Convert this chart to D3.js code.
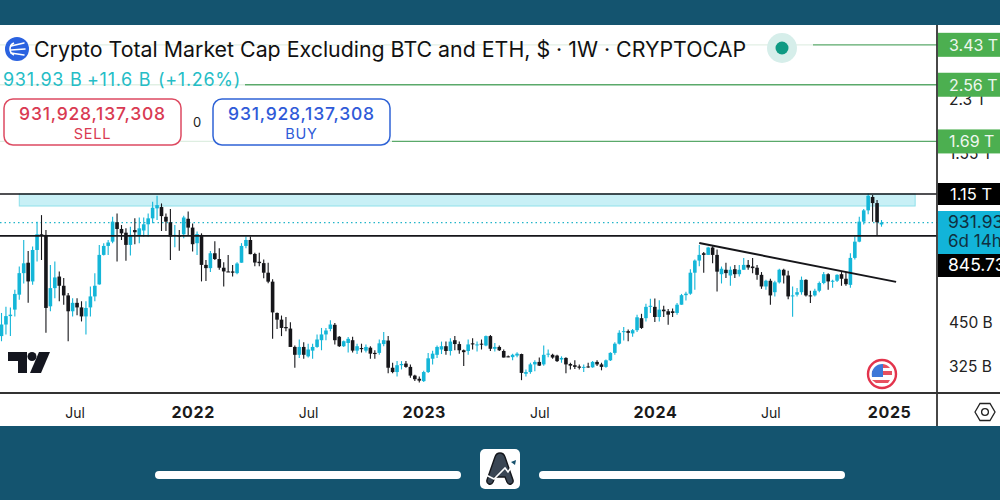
<![CDATA[<html>
<head>
<meta charset="utf-8">
<script src="https://d3js.org/d3.v7.min.js"></script>
<style>
  html, body { margin: 0; padding: 0; background: #fff; overflow: hidden; }
  svg { display: block; font-family: Inter, "Liberation Sans", sans-serif; }
</style>
</head>
<body>
<svg id="chart" width="1000" height="500"></svg>
<script>
// Weekly candles in billions of USD, one entry per week from 8 Mar 2021
const opens = [
  406,442,470,493,550,644,695,606,763,856, 852,505,577,628,587,547,487,518,501,469,
  501,543,593,736,786,811,935,890,866,792, 883,852,880,921,962,1035,1045,973,935,848,
  848,856,959,899,802,852,684,668,745,714, 670,652,652,644,695,786,821,741,700,693,
  646,605,481,458,434,429,375,354,375,350, 365,375,394,411,428,441,404,377,386,394,
  365,372,365,373,359,359,383,393,322,312, 328,332,324,304,297,292,312,344,354,368,
  377,364,394,383,366,364,385,381,384,379, 406,370,375,364,350,348,352,356,308,312,
  330,336,330,356,354,352,342,346,331,328, 325,322,325,323,336,330,324,340,359,384,
  418,421,414,424,463,463,503,503,467,493, 487,487,481,511,548,554,646,706,745,736,
  777,736,639,660,633,663,639,660,684,676, 670,636,584,609,560,602,660,633,543,550,
  560,613,547,547,566,599,639,606,609,639, 618,591,720,811,939,1020,1125,1076,920
];
const closes = [
  442,470,475,553,644,692,606,763,856,848, 499,577,624,587,547,487,518,501,469,499,
  543,587,736,786,806,939,890,862,792,852, 869,894,921,962,1040,1060,978,939,842,852,
  842,968,899,796,858,684,668,745,714,670, 652,647,646,691,786,821,740,696,693,646,
  605,483,458,431,430,375,354,375,354,368, 375,396,411,423,442,394,377,391,398,365,
  377,369,375,357,356,385,394,322,312,328, 331,324,304,296,293,312,345,357,375,377,
  364,390,383,366,361,382,382,382,382,406, 370,375,366,347,349,354,357,310,312,330,
  336,327,354,357,347,338,346,330,327,324, 322,324,323,336,330,324,340,359,384,416,
  421,416,424,466,431,503,507,467,493,487, 475,481,511,548,554,646,706,736,736,777,
  736,651,665,644,660,639,660,684,671,668, 636,584,609,547,602,660,633,543,547,560,
  613,547,543,566,599,639,606,609,636,618, 594,720,811,939,1020,1135,1076,935,932
];
const highs = [
  481,503,501,570,676,821,757,783,939,985, 883,684,701,652,621,557,536,536,524,524,
  584,644,792,802,821,973,996,916,894,905, 962,968,968,996,1087,1135,1073,996,1030,916,
  883,980,1012,926,873,862,709,757,813,773, 698,736,684,698,802,842,842,748,748,712,
  695,616,483,472,467,449,379,396,388,384, 384,411,431,431,456,447,406,393,403,404,
  384,384,382,377,366,396,418,406,334,338, 338,338,330,306,302,315,359,365,379,390,
  390,400,406,390,368,396,400,390,396,408, 409,386,379,368,352,357,361,357,318,334,
  340,347,379,368,357,354,350,348,334,340, 330,330,334,338,340,334,342,361,388,424,
  434,426,428,475,478,515,534,535,528,507, 495,497,517,553,562,662,712,792,752,782,
  784,766,676,695,676,684,684,720,709,720, 684,649,613,618,609,665,665,655,584,577,
  628,616,566,574,606,649,644,613,639,649, 649,745,842,973,1030,1155,1142,1100,950
];
const lows = [
  391,411,406,469,530,597,518,591,701,709, 416,487,536,524,511,391,469,473,452,411,
  469,524,591,733,736,802,701,821,705,733, 796,802,841,841,928,950,877,877,709,778,
  759,831,852,754,736,606,608,649,709,660, 584,649,628,639,695,773,740,677,677,620,
  598,398,428,406,421,375,322,346,344,347, 344,373,366,394,421,382,375,375,360,360,
  356,360,360,344,344,354,377,309,309,302, 318,322,299,292,289,290,310,330,346,356,
  354,352,366,357,326,354,368,363,368,377, 364,363,364,347,348,340,348,294,302,308,
  314,326,327,348,344,336,334,309,318,319, 318,312,322,322,326,316,322,338,354,382,
  393,391,404,418,428,452,481,450,452,467, 441,467,475,511,527,550,570,677,646,736,
  692,563,597,621,587,621,628,660,660,644, 613,574,570,511,543,597,597,532,468,543,
  550,543,517,543,560,594,570,579,603,587, 587,579,712,808,920,991,939,852,905
];

const firstWeek = new Date(Date.UTC(2021, 2, 8));
const lastWeek = new Date(Date.UTC(2024, 11, 23));
const weeks = d3.utcMonday.range(firstWeek, new Date(Date.UTC(2024, 11, 24)));

const timeTicks = [
  [new Date(Date.UTC(2021, 6, 1)), "Jul"], [new Date(Date.UTC(2022, 0, 3)), "2022"],
  [new Date(Date.UTC(2022, 6, 4)), "Jul"], [new Date(Date.UTC(2023, 0, 2)), "2023"],
  [new Date(Date.UTC(2023, 6, 3)), "Jul"], [new Date(Date.UTC(2024, 0, 1)), "2024"],
  [new Date(Date.UTC(2024, 6, 1)), "Jul"], [new Date(Date.UTC(2025, 0, 4)), "2025"]
];
const priceTicks = [2300, 1550, 450, 325];
const priceTickLabels = ["2.3 T", "1.55 T", "450 B", "325 B"];

const targetLevels = [3430, 2560, 1690];
const targetLabels = ["3.43 T", "2.56 T", "1.69 T"];
const resistance = 1150;
const support = 845.73;
const lastPrice = 931.93;
const zoneTop = 1150;
const zoneBottom = 1053;
const zoneStart = new Date(Date.UTC(2021, 3, 5));
const zoneEnd = new Date(Date.UTC(2025, 1, 14));
const trendDates = [new Date(Date.UTC(2024, 2, 11)), new Date(Date.UTC(2025, 0, 15))];
const trendPrices = [803, 604];

const teal = "#14546f", ink = "#16161a", cyan = "#14b6d8", green = "#4caf50";

// Set Dimensions
const plotTop = 25, plotBottom = 393, axisX = 937, stripBottom = 426;

const svg = d3.select("#chart");

const x = d3.scaleUtc().domain([firstWeek, lastWeek]).range([1.5, 881.5]);
const y = d3.scaleLog().domain([267.6, 3966]).range([plotBottom, plotTop]);

// Header and footer strips
svg.append("rect").attr("width", 1000).attr("height", 500).attr("fill", teal);
svg.append("rect").attr("y", plotTop).attr("width", 1000).attr("height", stripBottom - plotTop).attr("fill", "#fff");

// Resistance zone
svg.append("rect")
  .attr("x", x(zoneStart)).attr("width", x(zoneEnd) - x(zoneStart))
  .attr("y", y(zoneTop)).attr("height", y(zoneBottom) - y(zoneTop))
  .attr("fill", "#c8f0f6").attr("stroke", "#8fe0ea").attr("stroke-width", 1);

// Target lines, faint under the legend
svg.append("g").selectAll("line").data(targetLevels).enter().append("line")
  .attr("x1", 0).attr("x2", axisX)
  .attr("y1", d => y(d)).attr("y2", d => y(d))
  .attr("stroke", "#5aa96a").attr("stroke-width", 1.3);

svg.append("line").attr("x1", 0).attr("x2", axisX)
  .attr("y1", y(lastPrice)).attr("y2", y(lastPrice))
  .attr("stroke", "#22b5c9").attr("stroke-width", 1.2).attr("stroke-dasharray", "1.5 3");

// Candles
const candleRows = weeks.map((d, i) => ({ date: d, o: opens[i], h: highs[i], l: lows[i], c: closes[i] }));
const candles = svg.append("g").selectAll("g").data(candleRows).enter().append("g")
  .attr("fill", d => d.c >= d.o ? cyan : ink)
  .attr("stroke", d => d.c >= d.o ? cyan : ink);
candles.append("line")
  .attr("x1", d => x(d.date)).attr("x2", d => x(d.date))
  .attr("y1", d => y(d.h)).attr("y2", d => y(d.l))
  .attr("stroke-width", 1.1);
candles.append("rect")
  .attr("x", d => x(d.date) - 1.8).attr("width", 3.6)
  .attr("y", d => y(Math.max(d.o, d.c)))
  .attr("height", d => Math.max(1, Math.abs(y(d.o) - y(d.c))))
  .attr("stroke", "none");

// Horizontal levels and trend line
[resistance, support].forEach(p => {
  svg.append("line").attr("x1", 0).attr("x2", axisX)
    .attr("y1", y(p)).attr("y2", y(p))
    .attr("stroke", ink).attr("stroke-width", 1.7);
});
svg.append("line")
  .attr("x1", x(trendDates[0])).attr("y1", y(trendPrices[0]))
  .attr("x2", x(trendDates[1])).attr("y2", y(trendPrices[1]))
  .attr("stroke", ink).attr("stroke-width", 2);

// Legend wash over the target lines
svg.append("rect").attr("x", 0).attr("y", 32).attr("width", 813).attr("height", 32).attr("fill", "#fff").attr("opacity", 0.82);
svg.append("rect").attr("x", 0).attr("y", 72).attr("width", 245).attr("height", 24).attr("fill", "#fff").attr("opacity", 0.82);
svg.append("rect").attr("x", 0).attr("y", 134).attr("width", 392).attr("height", 14).attr("fill", "#fff").attr("opacity", 0.8);

// Symbol icon
const icon = svg.append("g").attr("transform", "translate(17,49)");
icon.append("circle").attr("r", 12).attr("fill", "#2a62e0");
[[-6, -3, 7, -6], [-6, 1, 8, 0], [-6, 4, 7, 6]].forEach(s => {
  icon.append("line").attr("x1", s[0]).attr("y1", s[1]).attr("x2", s[2]).attr("y2", s[3])
    .attr("stroke", "#fff").attr("stroke-width", 1.5).attr("stroke-linecap", "round");
});
icon.append("path").attr("d", "M-3,-6 A6.5,6.5 0 0 0 -3,6").attr("fill", "none").attr("stroke", "#fff").attr("stroke-width", 1.6);

// Title and quote
svg.append("text").attr("x", 34).attr("y", 57).attr("font-size", 21.35).attr("fill", "#111")
  .text("Crypto Total Market Cap Excluding BTC and ETH, $ · 1W · CRYPTOCAP");
const quote = svg.append("text").attr("y", 86).attr("font-size", 18).attr("letter-spacing", 0.7).attr("fill", "#25bdc6");
[[3, "931.93 B"], [87, "+11.6 B"], [158, "(+1.26%)"]].forEach(q => {
  quote.append("tspan").attr("x", q[0]).text(q[1]);
});

svg.append("circle").attr("cx", 782).attr("cy", 48).attr("r", 15).attr("fill", "#d6eeea");
svg.append("circle").attr("cx", 782).attr("cy", 48).attr("r", 6.5).attr("fill", "#0f9a83");

// Sell and buy buttons
[[4, "#dd4a61", "#d93a52", "SELL"], [213, "#2f63d6", "#2f5ad8", "BUY"]].forEach(b => {
  svg.append("rect").attr("x", b[0]).attr("y", 99).attr("width", 177).attr("height", 46).attr("rx", 9)
    .attr("fill", "#fff").attr("stroke", b[1]).attr("stroke-width", 1.5);
  svg.append("text").attr("x", b[0] + 88.5).attr("y", 119.5).attr("text-anchor", "middle")
    .attr("font-size", 17.5).attr("font-weight", 500).attr("letter-spacing", 0.8).attr("fill", b[2]).text("931,928,137,308");
  svg.append("text").attr("x", b[0] + 88.5).attr("y", 139).attr("text-anchor", "middle")
    .attr("font-size", 14.5).attr("letter-spacing", 0.8).attr("fill", b[2]).text(b[3]);
});
svg.append("text").attr("x", 197).attr("y", 127).attr("text-anchor", "middle").attr("font-size", 13).attr("fill", "#222").text("0");

// TradingView mark
const tv = svg.append("g").attr("transform", "translate(8,352)").attr("fill", "#14161f");
tv.append("path").attr("d", "M0,0 H19 V21 H10 V9 H0 Z");
tv.append("circle").attr("cx", 24).attr("cy", 4.5).attr("r", 4.5);
tv.append("path").attr("d", "M31,0 H42 L33,21 H22 Z");

// US flag marker
const flag = svg.append("g").attr("transform", "translate(882,374)");
flag.append("circle").attr("r", 14).attr("fill", "#fff").attr("stroke", "#e3344c").attr("stroke-width", 2.4);
flag.append("path").attr("d", "M-10,-3 H10 V1 H-10 Z M-10,6 H8 L6,9 H-6 Z").attr("fill", "#e8505f");
flag.append("path").attr("d", "M-10,3 A10.5,10.5 0 0 1 1,-10 V3 Z").attr("fill", "#3d78d8");
flag.append("path").attr("d", "M1,-10 A10.5,10.5 0 0 1 8,-6 H1 Z").attr("fill", "#e8505f");

// Axis frame
svg.append("line").attr("x1", 0).attr("x2", 1000).attr("y1", plotBottom).attr("y2", plotBottom).attr("stroke", "#333").attr("stroke-width", 1.8);
svg.append("line").attr("x1", axisX).attr("x2", axisX).attr("y1", plotTop).attr("y2", stripBottom).attr("stroke", "#333").attr("stroke-width", 1.8);

// Time axis
const labelByDate = new Map(timeTicks.map(t => [+t[0], t[1]]));
const timeAxis = svg.append("g").attr("transform", "translate(0," + plotBottom + ")")
  .call(d3.axisBottom(x).tickValues(timeTicks.map(t => t[0])).tickSize(0).tickPadding(0)
    .tickFormat(d => labelByDate.get(+d)));
timeAxis.select(".domain").remove();
timeAxis.selectAll("text")
  .attr("y", 25)
  .attr("dy", 0)
  .style("font-family", "Inter, sans-serif")
  .attr("fill", "#1a1a1a")
  .attr("font-size", d => labelByDate.get(+d) === "Jul" ? 14 : 16)
  .attr("font-weight", d => labelByDate.get(+d) === "Jul" ? 400 : 700)
  .attr("letter-spacing", d => labelByDate.get(+d) === "Jul" ? 0 : 0.6);

// Price axis
const priceAxis = svg.append("g").attr("transform", "translate(" + axisX + ",0)")
  .call(d3.axisRight(y).tickValues(priceTicks).tickSize(0).tickPadding(12)
    .tickFormat((d, i) => priceTickLabels[i]));
priceAxis.select(".domain").remove();
priceAxis.selectAll("text").style("font-family", "Inter, sans-serif").attr("font-size", 15.5).attr("fill", "#222");

// Price labels on the axis, pushed apart the way the platform stacks them
const priceLabel = (top, height, fill, color, lines) => {
  svg.append("rect").attr("x", axisX + 1).attr("y", top).attr("width", 1000 - axisX - 1).attr("height", height).attr("fill", fill);
  lines.forEach(l => {
    svg.append("text").attr("x", l.x).attr("y", l.y).attr("font-size", l.size || 16).attr("fill", color).text(l.t);
  });
};
targetLabels.forEach((t, i) => {
  const mid = y(targetLevels[i]);
  priceLabel(mid - 12, 24, green, "#eef7ee", [{ x: 949, y: mid + 6, t: t }]);
});
priceLabel(183, 22, "#000", "#fff", [{ x: 950, y: 200, t: "1.15 T", size: 16.5 }]);
priceLabel(211, 43, "#12b4d9", "#10303f", [{ x: 948, y: 228, t: "931.93", size: 17.5 }, { x: 948, y: 247, t: "6d 14h", size: 17 }]);
priceLabel(254, 23, "#000", "#fff", [{ x: 948, y: 271, t: "845.73", size: 17.5 }]);

// Settings hexagon
const hex = svg.append("g").attr("transform", "translate(985,412)").attr("fill", "none").attr("stroke", "#222").attr("stroke-width", 1.3);
hex.append("path").attr("d", "M-10,0 L-5,-8.5 H5 L10,0 L5,8.5 H-5 Z");
hex.append("circle").attr("r", 3.4);

// Footer bars and logo
[[155, 306], [539, 306]].forEach(b => {
  svg.append("rect").attr("x", b[0]).attr("y", 471).attr("width", b[1]).attr("height", 8).attr("rx", 4).attr("fill", "#fff");
});
const logo = svg.append("g").attr("transform", "translate(480,449)");
logo.append("rect").attr("width", 40).attr("height", 40).attr("rx", 5).attr("fill", "#fff");
logo.append("path").attr("d", "M20,4 C23,4 24,5 25,8 L33,31 C34,35 29,37 27,33 L25,28 H15 L13,33 C11,37 6,35 7,31 L15,8 C16,5 17,4 20,4 Z").attr("fill", "#3a4654").attr("stroke", "#15171c").attr("stroke-width", 1.4);
logo.append("path").attr("d", "M6,26 L14,30 L25,19 L28,23 L35,13").attr("fill", "none").attr("stroke", "#fff").attr("stroke-width", 1.6);
logo.append("path").attr("d", "M31,13 L36,11 L35,16 Z").attr("fill", "#15506c");
</script>
</body>
</html>
]]>
